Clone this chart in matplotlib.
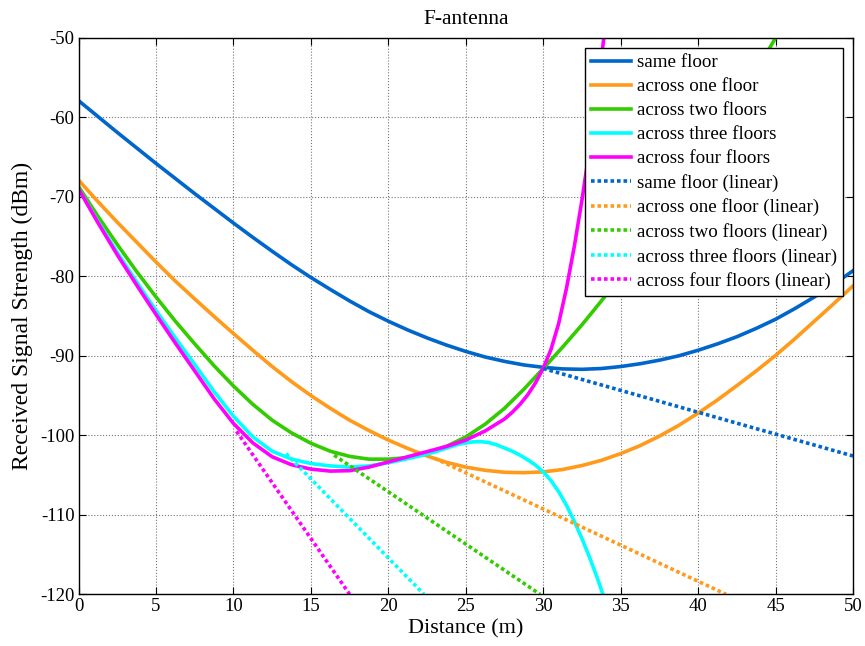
import numpy as np
import matplotlib.pyplot as plt

plt.rcParams['font.family'] = ['Liberation Serif', 'DejaVu Serif']
plt.rcParams['axes.unicode_minus'] = False

# measured received signal strength (dBm) against distance (m)
dist = [0, 1.25, 2.5, 3.75, 5, 6.25, 7.5, 8.75, 10, 11.25, 12.5, 13.75, 15, 16.25,
        17.5, 18.75, 20, 21.25, 22.5, 23.75, 25, 26.25, 27.5, 28.75, 30, 31.25,
        32.5, 33.75, 35, 36.25, 37.5, 38.75, 40, 41.25, 42.5, 43.75, 45, 46.25,
        47.5, 48.75, 50]
rss_same = [-57.9, -59.9, -61.9, -63.85, -65.8, -67.7, -69.6, -71.45, -73.3, -75.1,
            -76.85, -78.55, -80.15, -81.65, -83.1, -84.45, -85.65, -86.75, -87.75,
            -88.65, -89.45, -90.15, -90.7, -91.15, -91.45, -91.65, -91.7, -91.6,
            -91.35, -91.0, -90.55, -90.0, -89.3, -88.5, -87.6, -86.55, -85.4, -84.05,
            -82.6, -81.0, -79.3]
rss_one = [-67.9, -70.6, -73.2, -75.7, -78.2, -80.6, -82.85, -85.05, -87.2, -89.3,
           -91.35, -93.25, -95.0, -96.6, -98.1, -99.4, -100.6, -101.65, -102.6, -103.4,
           -104.0, -104.4, -104.65, -104.7, -104.6, -104.3, -103.8, -103.15, -102.3,
           -101.3, -100.1, -98.75, -97.2, -95.55, -93.75, -91.9, -89.95, -87.85,
           -85.65, -83.45, -81.2]

dist_two = dist[:37]
rss_two = [-68.7, -72.45, -76.0, -79.4, -82.6, -85.65, -88.5, -91.25, -93.8, -96.1,
           -98.1, -99.7, -101.0, -102.0, -102.65, -103.0, -103.0, -102.8, -102.25,
           -101.4, -100.2, -98.6, -96.6, -94.2, -91.6, -88.9, -86.1, -83.1, -80.0,
           -76.8, -73.4, -69.85, -66.1, -62.2, -58.2, -54.15, -50.0]

dist_three = [0, 1.25, 2.5, 3.75, 5, 6.25, 7.5, 8.75, 10, 11.25, 12.5, 13.75, 15,
              16.25, 17.5, 18.75, 20, 21, 22, 23, 24, 24.5, 25, 25.5, 26, 26.5, 27,
              27.5, 28, 28.5, 29, 29.5, 30, 30.5, 31, 31.5, 32, 32.5, 33, 33.5, 33.85]
rss_three = [-69.0, -73.1, -77.0, -80.7, -84.3, -87.75, -91.1, -94.5, -97.6, -100.2,
             -102.0, -103.0, -103.55, -103.85, -104.0, -103.85, -103.45, -103.05,
             -102.6, -102.1, -101.45, -101.15, -100.95, -100.82, -100.8, -100.92,
             -101.2, -101.6, -102.0, -102.5, -103.08, -103.75, -104.6, -105.7, -107.1,
             -108.8, -110.8, -113.0, -115.4, -118.0, -120.0]

dist_four = [0, 1.25, 2.5, 3.75, 5, 6.25, 7.5, 8.75, 10, 11.25, 12.5, 13.75, 15,
             16.25, 17.5, 18.75, 20, 21.25, 22.5, 23.75, 25, 26.25, 27.5, 28, 28.5,
             29, 29.5, 30, 30.5, 31, 31.5, 32, 32.5, 33, 33.5, 33.9]
rss_four = [-69.0, -73.25, -77.3, -81.1, -84.8, -88.4, -91.9, -95.4, -98.5, -100.95,
            -102.7, -103.7, -104.25, -104.5, -104.45, -104.0, -103.35, -102.7, -102.05,
            -101.4, -100.6, -99.45, -97.95, -97.1, -96.1, -94.9, -93.4, -91.55, -89.2,
            -85.9, -81.5, -76.3, -70.4, -63.8, -56.5, -50.2]

# linear path-loss fits (end points)
lin_same_d, lin_same = [30, 50], [-91.6, -102.6]
lin_one_d, lin_one = [23, 41.8], [-102.9, -120.0]
lin_two_d, lin_two = [16.5, 29.8], [-102.5, -120.0]
lin_three_d, lin_three = [13.4, 22.3], [-102.3, -120.0]
lin_four_d, lin_four = [10.2, 17.5], [-99.5, -120.0]

c_blue = '#0066CC'
c_orange = '#FF9A1A'
c_green = '#33CC00'
c_cyan = '#00FFFF'
c_magenta = '#FF00FF'
dot = (0, (1.0, 0.8))
lw = 2.6

fig = plt.figure(figsize=(8.65, 6.46), dpi=100)
ax = fig.add_axes([0.0908, 0.080, 0.8954, 0.8615])

ax.plot(dist, rss_same, color=c_blue, lw=lw, label='same floor')
ax.plot(dist, rss_one, color=c_orange, lw=lw, label='across one floor')
ax.plot(dist_two, rss_two, color=c_green, lw=lw, label='across two floors')
ax.plot(dist_three, rss_three, color=c_cyan, lw=lw, label='across three floors')
ax.plot(dist_four, rss_four, color=c_magenta, lw=lw, label='across four floors')

ax.plot(lin_same_d, lin_same, color=c_blue, lw=lw, ls=dot, label='same floor (linear)')
ax.plot(lin_one_d, lin_one, color=c_orange, lw=lw, ls=dot, label='across one floor (linear)')
ax.plot(lin_two_d, lin_two, color=c_green, lw=lw, ls=dot, label='across two floors (linear)')
ax.plot(lin_three_d, lin_three, color=c_cyan, lw=lw, ls=dot, label='across three floors (linear)')
ax.plot(lin_four_d, lin_four, color=c_magenta, lw=lw, ls=dot, label='across four floors (linear)')

ax.set_xlim(0, 50)
ax.set_ylim(-120, -50)
ax.set_xticks(np.arange(0, 51, 5))
ax.set_yticks(np.arange(-120, -49, 10))
ax.grid(True, color='#777777', ls=':', lw=0.8)
ax.tick_params(direction='in', top=True, right=True, length=5, width=0.8,
               labelsize=13.5, pad=3)
for s in ax.spines.values():
    s.set_linewidth(1.0)

ax.set_title('F-antenna', fontsize=15.5, pad=10)
ax.set_xlabel('Distance (m)', fontsize=16, labelpad=3)
ax.set_ylabel('Received Signal Strength (dBm)', fontsize=17, labelpad=5)

leg = ax.legend(loc='upper right', fontsize=13.7, handlelength=2.1, handletextpad=0.3,
                labelspacing=0.35, borderaxespad=0.55, borderpad=0.3,
                fancybox=False, framealpha=1, edgecolor='black')
leg.get_frame().set_linewidth(1.0)

plt.savefig('out.png', dpi=100)
